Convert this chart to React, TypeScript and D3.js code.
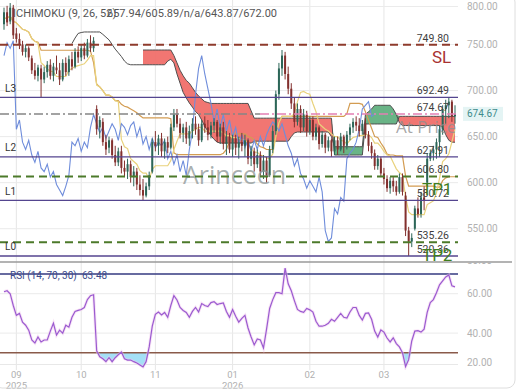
import React from "react";
import * as d3 from "d3";

// ---------- DATA ----------
const opens = [
  772, 785, 775, 790, 762, 756, 750, 742, 746, 735,
  722, 716, 724, 712, 720, 728, 716, 725, 722, 712,
  730, 720, 734, 726, 742, 736, 746, 738, 752, 746,
  680, 660, 666, 644, 638, 646, 630, 622, 634, 616,
  612, 620, 606, 612, 598, 592, 586, 596, 612, 644,
  640, 648, 634, 644, 638, 660, 674, 664, 654, 660,
  648, 656, 664, 658, 646, 664, 660, 652, 662, 666,
  650, 660, 642, 650, 636, 648, 638, 644, 640, 646,
  626, 634, 620, 630, 612, 624, 608, 636, 656, 696,
  724, 738, 718, 702, 686, 666, 680, 660, 674, 656,
  668, 650, 660, 642, 652, 638, 646, 634, 646, 636,
  650, 640, 652, 660, 666, 662, 656, 664, 652, 640,
  632, 618, 626, 610, 604, 594, 602, 596, 590, 606,
  586, 548, 536, 550, 572, 566, 584, 600, 626, 632,
  636, 644, 658, 680, 684, 688, 672,
];
const highs = [
  790, 792, 795, 793, 768, 762, 754, 750, 748, 738,
  730, 728, 728, 726, 732, 734, 730, 738, 730, 734,
  736, 738, 742, 746, 748, 750, 752, 756, 760, 758,
  684, 672, 670, 652, 650, 648, 640, 638, 640, 624,
  626, 624, 618, 616, 608, 604, 600, 612, 648, 656,
  652, 654, 648, 650, 664, 680, 680, 670, 664, 666,
  662, 670, 672, 664, 668, 672, 668, 666, 670, 668,
  664, 666, 656, 654, 652, 652, 650, 654, 652, 648,
  640, 638, 636, 634, 630, 628, 640, 662, 700, 730,
  744, 742, 726, 708, 692, 686, 684, 680, 678, 672,
  672, 664, 662, 656, 654, 650, 648, 650, 650, 654,
  652, 656, 664, 670, 672, 670, 668, 670, 656, 644,
  636, 630, 628, 616, 608, 606, 606, 602, 610, 610,
  590, 552, 545, 575, 584, 590, 596, 632, 636, 640,
  648, 662, 684, 690, 692.49, 690, 684,
];
const lows = [
  766, 770, 772, 756, 752, 745, 738, 736, 732, 718,
  712, 710, 692.5, 708, 714, 712, 710, 718, 706, 710,
  716, 716, 722, 724, 730, 732, 734, 736, 742, 742,
  652, 648, 640, 630, 632, 626, 618, 618, 610, 606,
  604, 600, 596, 592, 586, 580.72, 584, 592, 610, 634,
  630, 628, 626, 632, 636, 656, 660, 648, 644, 642,
  640, 648, 652, 640, 644, 654, 646, 648, 654, 644,
  642, 636, 630, 632, 628, 630, 626, 634, 628, 620,
  618, 612, 616, 606, 604, 600, 606, 632, 652, 690,
  716, 712, 696, 680, 660, 662, 654, 656, 650, 652,
  646, 646, 636, 638, 632, 634, 628, 630, 630, 634,
  632, 636, 646, 654, 656, 650, 652, 648, 634, 626,
  614, 614, 606, 598, 590, 588, 590, 586, 588, 586,
  542, 520.36, 530, 548, 562, 562, 570, 596, 623.4, 624,
  626, 628, 652, 664, 670, 666, 664,
];
const closes = [
  785, 774, 790, 760, 756, 750, 742, 746, 736, 722,
  716, 725, 712, 720, 728, 716, 726, 722, 712, 730,
  720, 734, 726, 742, 736, 746, 738, 752, 746, 754,
  658, 668, 644, 636, 646, 630, 622, 634, 616, 612,
  620, 606, 612, 598, 592, 586, 596, 608, 644, 640,
  648, 634, 644, 638, 660, 674, 664, 654, 660, 648,
  656, 664, 658, 646, 664, 660, 652, 662, 666, 650,
  660, 642, 650, 636, 648, 638, 644, 640, 646, 626,
  634, 620, 630, 612, 624, 608, 636, 656, 696, 724,
  738, 718, 702, 686, 666, 680, 660, 674, 656, 668,
  650, 660, 642, 652, 638, 646, 634, 646, 636, 650,
  640, 652, 660, 666, 662, 656, 664, 652, 640, 632,
  618, 626, 610, 604, 594, 602, 596, 590, 606, 590,
  548, 536, 540, 572, 566, 584, 580, 626, 632, 636,
  644, 658, 680, 684, 688, 672, 674.67,
];
const N = null;
const spanA: (number | null)[] = [
  N, N, N, N, N, N, N, N, N, N,
  N, N, N, N, N, N, N, N, N, N,
  N, N, 751, 757, 762, 763, 763.6, 763.6, 763.6, 763.6,
  763.6, 763.6, 761, 758, 755, 750, 745, 741, 737, 732,
  729, 728, 728, 728, 728, 728, 728, 728, 728, 728,
  728, 728, 728, 732, 734, 730, 718, 708, 698, 692,
  686.5, 682, 677, 674, 668, 661, 656, 651, 647, 644,
  643, 643, 643, 643, 643, 643, 643, 643, 643, 643,
  643, 645, 645, 645, 645, 645, 645, 645, 645, 645,
  645, 645, 645, 650, 654, 655, 655, 655, 655, 655,
  655, 655, 655, 655, 655, 655, 650, 639, 639, 639,
  639, 639, 639, 639, 639, 639, 639, 674, 677, 680,
  684, 684, 684, 684, 684, 684, 680, 674, 665, 662,
  662, 662, 662, 662, 662, 662, 662, 662, 662, 662,
  662, 662, 660, 652, 646, 644, 643.87,
];
const spanB: (number | null)[] = [
  N, N, N, N, N, N, N, N, N, N,
  N, N, N, N, N, N, N, N, N, N,
  N, N, N, N, N, N, N, N, N, N,
  N, N, N, N, N, N, N, N, N, N,
  N, N, N, N, N, 744, 744, 744, 744, 744,
  744, 744, 744, 744, 744, 738, 730, 722, 716, 711,
  708, 703, 698, 694, 691, 688, 687, 686, 686, 686,
  686, 686, 686, 686, 686, 686, 686, 686, 686, 686,
  678, 670, 670, 670, 670, 670, 670, 670, 670, 670,
  670, 670, 670, 670, 670, 670, 670, 670, 670, 670,
  670, 670, 670, 670, 670, 670, 670, 630, 630, 630,
  630, 630, 630, 630, 630, 630, 630, 663.7, 663.7, 663.7,
  663.7, 663.7, 663.7, 663.7, 663.7, 663.7, 663.7, 663.7, 672, 672,
  672, 672, 672, 672, 672, 672, 672, 672, 672, 672,
  672, 672, 672, 672, 672, 672, 672,
];
const rsi = [
  61, 61.5, 60, 54, 49, 50, 45.5, 44, 41.5, 36.5,
  35, 38, 35.5, 36.5, 36.5, 41, 45, 39, 41.5, 40,
  44, 43, 48, 51, 51.5, 52, 53, 57, 59, 59.5,
  31, 28, 27, 25.5, 27.5, 25.5, 27.5, 29, 30.4, 27,
  26.3, 26.3, 25.5, 24.8, 23.8, 22.8, 25.5, 33, 43.5, 49.5,
  50.7, 49.2, 50.5, 48, 54, 59, 56.8, 53, 51.5, 50.5,
  48, 51, 53, 50.7, 55, 54, 53.5, 55.5, 56, 54.5,
  55, 55.3, 51, 48, 52, 48.5, 45.6, 47.5, 49, 42.6,
  38, 34, 37, 36.5, 32.4, 42, 52.5, 57, 60.5, 60.5,
  60, 73, 65, 61.5, 56.5, 52, 51, 50.5, 52.5, 51.8,
  50.7, 46, 43.5, 43.5, 44, 45, 47, 46, 48, 50,
  48, 47.6, 50.7, 53, 53, 49, 46.6, 50, 50.2, 47,
  41, 38, 41.6, 40.5, 37.5, 35.5, 37.6, 34.7, 33, 30,
  23, 26.5, 36, 41, 41.2, 40.5, 42, 50.5, 55.5, 57,
  60.5, 64.5, 66.5, 68.5, 69.5, 64, 63.48,
];
const tickIndex = [4, 25, 49, 74, 99, 123];
const tickMonths = ["09", "10", "11", "01", "02", "03"];
const tickYears = ["2025", "", "", "2026", "", ""];
const priceTicks = [800, 750, 700, 650, 600, 550];
const rsiTicks = [80, 60, 40, 20];
const levelValues = [749.8, 692.49, 674.67, 627.91, 606.8, 580.72, 535.26, 520.36];
const levelKinds = ["stop", "zone", "price", "zone", "target", "zone", "target", "zone"];
const zoneNames = ["L3", "L2", "L1", "L0"];
const targetNames = ["SL", "TP1", "TP2"];
const currentPrice = 674.67;
const rsiLevels = [70, 30];
const ichimokuParams = [9, 26, 52];
const ichimokuValues = ["657.94", "605.89", "n/a", "643.87", "672.00"];
const rsiParams = [14, 70, 30];
const rsiValue = "63.48";

// ---------- helpers ----------
function midline(period: number): number[] {
  return closes.map((_, i) => {
    const s = Math.max(0, i - period + 1);
    const hi = d3.max(highs.slice(s, i + 1)) as number;
    const lo = d3.min(lows.slice(s, i + 1)) as number;
    return (hi + lo) / 2;
  });
}

const FONT = "Roboto, 'Liberation Sans', Arial, sans-serif";

export default function App() {
  const n = closes.length;
  const plotR = 458;
  const x = d3.scaleLinear().domain([0, n - 1]).range([4, 455]);
  const y = d3.scaleLinear().domain([550, 750]).range([228.7, 44.5]);
  const yr = d3.scaleLinear().domain([30, 70]).range([352.8, 274]);
  const idx = d3.range(n);

  const tenkan = midline(ichimokuParams[0]);
  const kijun = midline(ichimokuParams[1]);
  const shift = ichimokuParams[1];

  const lineOf = (arr: number[]) =>
    d3.line<number>().x((i) => x(i)).y((i) => y(arr[i]))(idx) || "";

  const chikouPath =
    d3
      .line<number>()
      .x((i) => x(i))
      .y((i) => y(closes[i + shift]))(d3.range(n - shift)) || "";

  const both = (i: number) => spanA[i] != null && spanB[i] != null;
  const redArea =
    d3
      .area<number>()
      .defined(both)
      .x((i) => x(i))
      .y0((i) => y(spanA[i] as number))
      .y1((i) => y(Math.max(spanA[i] as number, spanB[i] as number)))(idx) || "";
  const greenArea =
    d3
      .area<number>()
      .defined(both)
      .x((i) => x(i))
      .y0((i) => y(spanB[i] as number))
      .y1((i) => y(Math.max(spanA[i] as number, spanB[i] as number)))(idx) || "";
  const spanLine = (arr: (number | null)[]) =>
    d3
      .line<number>()
      .defined((i) => arr[i] != null)
      .x((i) => x(i))
      .y((i) => y(arr[i] as number))(idx) || "";

  const rsiPath = d3.line<number>().x((i) => x(i)).y((i) => yr(rsi[i]))(idx) || "";
  const rsiLow = rsiLevels[1];
  const rsiFill =
    d3
      .area<number>()
      .x((i) => x(i))
      .y0(() => yr(rsiLow))
      .y1((i) => yr(Math.min(rsi[i], rsiLow)))(idx) || "";

  const upCol = "#2c6658";
  const dnCol = "#83302e";

  let zoneK = 0;
  let targetK = 0;

  return (
    <svg
      width={520}
      height={390}
      style={{ position: "fixed", left: 0, top: 0, background: "#fff" }}
      fontFamily={FONT}
    >
      <defs>
        <clipPath id="mainClip">
          <rect x={0} y={0} width={plotR} height={262} />
        </clipPath>
        <clipPath id="rsiClip">
          <rect x={0} y={263} width={plotR} height={107} />
        </clipPath>
        <clipPath id="rsiAxisClip">
          <rect x={458} y={263} width={62} height={110} />
        </clipPath>
      </defs>
      <rect x={0} y={0} width={520} height={390} fill="#fff" />

      {/* vertical grid */}
      {tickIndex.map((t, k) => (
        <line key={"vg" + k} x1={x(t)} x2={x(t)} y1={0} y2={370} stroke="#e6e6e6" strokeWidth={1} />
      ))}
      {/* horizontal grid main */}
      {priceTicks.map((p, k) => {
        const yy = Math.max(6.5, y(p));
        return <line key={"hg" + k} x1={0} x2={plotR} y1={yy} y2={yy} stroke="#ebebeb" strokeWidth={1} />;
      })}
      {/* rsi grid */}
      {rsiTicks.slice(1, 3).map((r, k) => (
        <line key={"rg" + k} x1={0} x2={plotR} y1={yr(r)} y2={yr(r)} stroke="#ebebeb" strokeWidth={1} />
      ))}
      <line x1={0} x2={plotR} y1={364.5} y2={364.5} stroke="#e8e8e8" strokeWidth={1} />

      <g clipPath="url(#mainClip)">
        {/* cloud */}
        <path d={redArea} fill="#f06a66" fillOpacity={0.92} />
        <path d={greenArea} fill="#5cae7c" fillOpacity={0.92} />
        <path d={spanLine(spanA)} fill="none" stroke="#4f4f4f" strokeWidth={1} />
        <path d={spanLine(spanB)} fill="none" stroke="#4f4f4f" strokeWidth={1} />
        {/* tenkan / kijun */}
        <path d={lineOf(kijun)} fill="none" stroke="#d39c52" strokeWidth={1.2} />
        <path d={lineOf(tenkan)} fill="none" stroke="#e9d27c" strokeWidth={1.2} />
        {/* chikou */}
        <path d={chikouPath} fill="none" stroke="#6f8ddb" strokeWidth={1.1} />
        {/* candles */}
        {idx.map((i) => {
          const o = opens[i];
          const c = closes[i];
          const col = c >= o ? upCol : dnCol;
          const top = y(Math.max(o, c));
          const h = Math.max(1, Math.abs(y(o) - y(c)));
          return (
            <g key={"c" + i}>
              <line x1={x(i)} x2={x(i)} y1={y(highs[i])} y2={y(lows[i])} stroke={col} strokeWidth={1} />
              <rect x={x(i) - 1} y={top} width={2} height={h} fill={col} />
            </g>
          );
        })}
        {/* watermark texts */}
        <text x={183} y={184} fontSize={25} fill="#8d9696" fillOpacity={0.75} fontFamily="'Open Sans', sans-serif">
          Arinceen
        </text>
        <text x={396} y={133} fontSize={17} fill="#8f8f8f" fillOpacity={0.8} fontFamily="'Open Sans', sans-serif">
          At Price
        </text>

        {/* level lines */}
        {levelValues.map((v, k) => {
          const yy = y(v);
          const kind = levelKinds[k];
          if (kind === "stop")
            return <line key={"l" + k} x1={0} x2={plotR} y1={yy} y2={yy} stroke="#8e3b2c" strokeWidth={2} strokeDasharray="8 5" />;
          if (kind === "target")
            return <line key={"l" + k} x1={0} x2={plotR} y1={yy} y2={yy} stroke="#4c7a2a" strokeWidth={2} strokeDasharray="8 5" />;
          if (kind === "price")
            return (
              <g key={"l" + k}>
                <line x1={0} x2={260} y1={yy} y2={yy} stroke="#858585" strokeWidth={1.5} strokeDasharray="9 3 2 3" />
                <line x1={260} x2={plotR} y1={yy} y2={yy} stroke="#e37fb4" strokeWidth={1.5} strokeDasharray="9 3 2 3" />
              </g>
            );
          return <line key={"l" + k} x1={0} x2={plotR} y1={yy} y2={yy} stroke="#54458f" strokeWidth={1.3} />;
        })}
        {/* level value labels */}
        {levelValues.map((v, k) => (
          <text key={"lv" + k} x={449} y={y(v) - 3} fontSize={10.5} fill="#3f3f3f" textAnchor="end">
            {v.toFixed(2)}
          </text>
        ))}
        {/* zone names and targets */}
        {levelValues.map((v, k) => {
          const kind = levelKinds[k];
          if (kind === "zone") {
            const name = zoneNames[zoneK++];
            return (
              <text key={"zn" + k} x={5} y={y(v) - 5.5} fontSize={10} fill="#333">
                {name}
              </text>
            );
          }
          if (kind === "stop" || kind === "target") {
            const name = targetNames[targetK++];
            return (
              <text
                key={"tn" + k}
                x={kind === "stop" ? 432 : 422}
                y={y(v) + 18.5}
                fontSize={17}
                fill={kind === "stop" ? "#a83232" : "#3f7d1c"}
              >
                {name}
              </text>
            );
          }
          return null;
        })}
        {/* title */}
        <text x={13} y={17} fontSize={11} fill="#555">
          {`ICHIMOKU (${ichimokuParams.join(", ")})`}
          <tspan x={107}>{ichimokuValues.join("/")}</tspan>
        </text>
      </g>

      {/* price axis labels */}
      {priceTicks.map((p, k) => (
        <text key={"pt" + k} x={467} y={Math.max(6, y(p))} dy="0.35em" fontSize={10} fill="#b2b2b2">
          {p.toFixed(2)}
        </text>
      ))}
      <rect x={463} y={y(currentPrice) - 7} width={40} height={14} fill="#e4f4f4" />
      <text x={467} y={y(currentPrice)} dy="0.35em" fontSize={10} fill="#3f8c8c">
        {currentPrice.toFixed(2)}
      </text>

      {/* separator */}
      <line x1={0} x2={512} y1={262} y2={262} stroke="#9a9a9a" strokeWidth={1.5} />

      {/* RSI pane */}
      <g clipPath="url(#rsiClip)">
        <path d={rsiFill} fill="#a4e0f6" stroke="none" />
        <line x1={0} x2={plotR} y1={yr(rsiLevels[0])} y2={yr(rsiLevels[0])} stroke="#343a80" strokeWidth={1.5} />
        <line x1={0} x2={plotR} y1={yr(rsiLevels[1])} y2={yr(rsiLevels[1])} stroke="#8a5a4a" strokeWidth={1.5} />
        <path d={rsiPath} fill="none" stroke="#f2c8ee" strokeWidth={3} strokeOpacity={0.5} />
        <path d={rsiPath} fill="none" stroke="#9a5bd0" strokeWidth={1.2} />
        <text x={10} y={279} fontSize={10} fill="#3d4a8a">
          {`RSI (${rsiParams.join(", ")})`}
          <tspan x={82}>{rsiValue}</tspan>
        </text>
      </g>
      <g clipPath="url(#rsiAxisClip)">
        {rsiTicks.map((r, k) => (
          <text key={"rt" + k} x={467} y={Math.min(362, Math.max(260, yr(r)))} dy="0.35em" fontSize={10} fill="#b2b2b2">
            {r.toFixed(2)}
          </text>
        ))}
      </g>

      {/* time axis */}
      {tickIndex.map((t, k) => (
        <g key={"tx" + k}>
          <text x={x(t)} y={378} fontSize={9.5} fill="#b0b0b0" textAnchor="middle">
            {tickMonths[k]}
          </text>
          {tickYears[k] && (
            <text x={x(t)} y={389} fontSize={9.5} fill="#b0b0b0" textAnchor="middle">
              {tickYears[k]}
            </text>
          )}
        </g>
      ))}

      {/* outer border */}
      <rect x={-6} y={-6} width={521} height={394} rx={8} fill="none" stroke="#dedede" strokeWidth={1} />
    </svg>
  );
}
